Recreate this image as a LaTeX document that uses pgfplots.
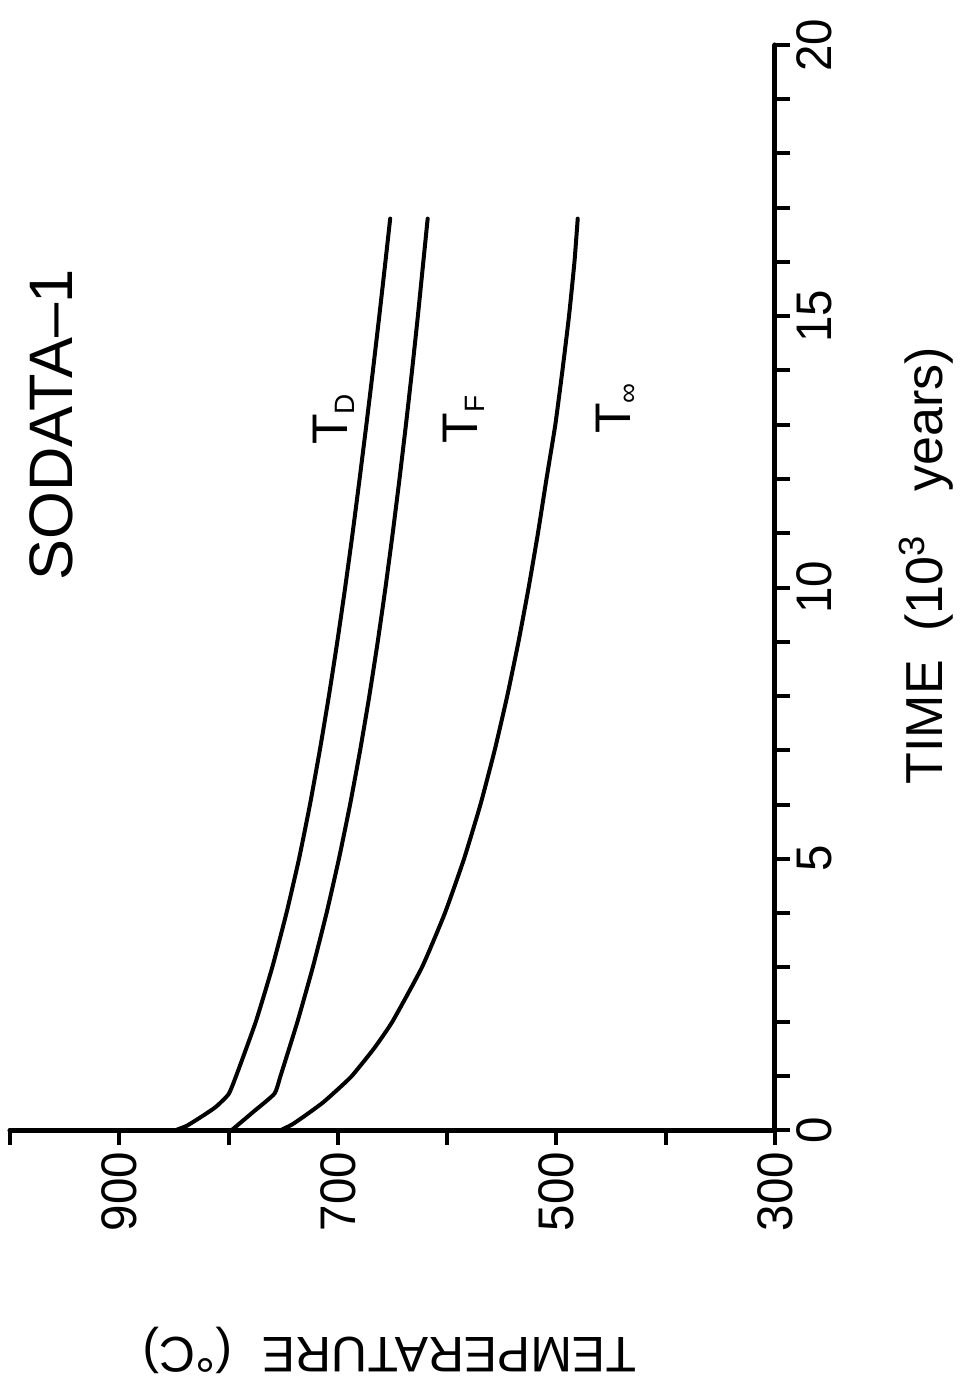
\documentclass[border=0pt]{standalone}
\usepackage{pgfplots}
\pgfplotsset{compat=1.18}
\usepackage{fontspec}
\setmainfont{Liberation Sans}
\newfontfamily\tickfont{Liberation Sans}[FakeStretch=0.95]
\newcommand{\sub}[1]{{\fontsize{14pt}{14pt}\selectfont\raisebox{-3.5pt}{#1}}}
\begin{document}
\begin{tikzpicture}
\path[use as bounding box] (-5pt,-131.5pt) rectangle (479.5pt,565pt);
\begin{axis}[
  at={(0,0)}, anchor=south west,
  scale only axis, width=382.5pt, height=542.5pt,
  x dir=reverse,
  xmin=300, xmax=1000, ymin=0, ymax=20,
  enlargelimits=false, clip=false,
  axis x line*=bottom, axis y line*=right,
  axis line style={-, line width=2.5pt, line cap=round},
  tick align=outside,
  xtick={300,500,700,900}, minor xtick={400,600,800,1000},
  ytick={0,5,10,15,20}, minor ytick={1,2,3,4,6,7,8,9,11,12,13,14,16,17,18,19},
  major tick length=7.5pt, minor tick length=7.5pt,
  major tick style={black, line width=2pt},
  minor tick style={black, line width=2pt},
  /pgf/number format/assume math mode=true,
  xticklabel style={rotate=90, anchor=east, font=\tickfont\fontsize{25pt}{30pt}\selectfont},
  yticklabel style={rotate=90, anchor=north, font=\tickfont\fontsize{25pt}{30pt}\selectfont},
]
% T_D
\addplot[black, line width=2pt, line join=round, line cap=round, smooth, tension=0.3] coordinates {
(848,0) (838,0.08) (826,0.23) (812,0.42) (800,0.66) (793,1) (775,2) (760,3) (747,4) (735.5,5) (725.5,6) (716.5,7) (708.2,8) (700.5,9) (693.3,10) (686.5,11) (680.1,12) (673.9,13) (667.9,14) (662.1,15) (656.5,16) (652.1,16.8)
};
% T_F
\addplot[black, line width=2pt, line join=round, line cap=round, smooth, tension=0.3] coordinates {
(797,0) (777,0.34) (758,0.67) (752.4,1) (736.9,2) (722.9,3) (710.3,4) (699,5) (688.8,6) (679.6,7) (671.2,8) (663.5,9) (656.4,10) (649.8,11) (643.6,12) (637.7,13) (632.1,14) (626.8,15) (621.8,16) (617.8,16.8)
};
% T_inf
\addplot[black, line width=2pt, line join=round, line cap=round, smooth, tension=0.3] coordinates {
(752,0) (742,0.1) (731,0.25) (714,0.5) (700,0.75) (687,1) (667,1.5) (650,2) (623,3) (602,4) (584.5,5) (569.5,6) (556.5,7) (545,8) (534.7,9) (525.4,10) (516.9,11) (509.1,12) (501,13) (494.5,14) (488.5,15) (483.5,16) (480.5,16.8)
};
\node[rotate=90, font=\fontsize{30.7pt}{36pt}\selectfont] at (axis cs:962,13) {SODATA--1};
\node[rotate=90, font=\fontsize{25pt}{30pt}\selectfont] at (axis cs:704,13.1) {T\sub{D}};
\node[rotate=90, font=\fontsize{25pt}{30pt}\selectfont] at (axis cs:585,13.1) {T\sub{F}};
\node[rotate=90, font=\fontsize{25pt}{30pt}\selectfont] at (axis cs:445,13.3) {T\sub{∞}};
\node[rotate=90, font=\fontsize{26pt}{30pt}\selectfont] at (axis cs:162,10.4) {TIME\ \ (10\textsuperscript{3}\ \ \ years)};
\node[rotate=180, font=\fontsize{25pt}{30pt}\selectfont] at (axis cs:652.6,-4.06) {TEMPERATURE\hspace{0.6em}(°C)};
\end{axis}
\end{tikzpicture}
\end{document}
